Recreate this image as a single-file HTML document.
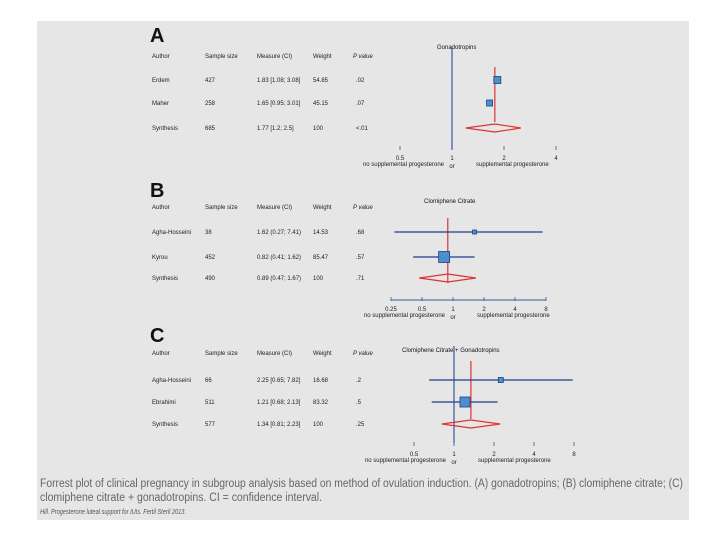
<!DOCTYPE html>
<html><head><meta charset="utf-8"><style>
body{margin:0;background:#fff;width:720px;height:540px;overflow:hidden;font-family:"Liberation Sans",sans-serif}
svg{position:absolute;left:0;top:0}
</style></head><body>
<svg id="s" width="720" height="540">
<rect x="37" y="21" width="652" height="499" fill="#e6e6e6"/>
<text x="40" y="487" font-size="11.5" fill="#666" textLength="643" lengthAdjust="spacingAndGlyphs">Forrest plot of clinical pregnancy in subgroup analysis based on method of ovulation induction. (A) gonadotropins; (B) clomiphene citrate; (C)</text>
<text x="40" y="501" font-size="11.5" fill="#666" textLength="282" lengthAdjust="spacingAndGlyphs">clomiphene citrate + gonadotropins. CI = confidence interval.</text>
<text x="40" y="514" font-size="7" font-style="italic" fill="#555" textLength="146" lengthAdjust="spacingAndGlyphs">Hill. Progesterone luteal support for IUIs. Fertil Steril 2013.</text>
</svg>
<script>
const NS='http://www.w3.org/2000/svg';
const svg=document.getElementById('s');
function mk(tag,attrs,parent){const e=document.createElementNS(NS,tag);for(const k in attrs)e.setAttribute(k,attrs[k]);(parent||svg).appendChild(e);return e;}
// ---- data ----
const panelLabels=['A','B','C'];
const panelTitles=['Gonadotropins','Clomiphene Citrate','Clomiphene Citrate + Gonadotropins'];
const authorsA=['Erdem','Maher','Synthesis'];
const sizesA=['427','258','685'];
const measuresA=['1.83 [1.08; 3.08]','1.65 [0.95; 3.01]','1.77 [1.2; 2.5]'];
const weightsA=['54.85','45.15','100'];
const pA=['.02','.07','<.01'];
const estA=[1.83,1.65,1.77]; const loA=[1.08,0.95,1.2]; const hiA=[3.08,3.01,2.5];
const ticksA=[0.5,1,2,4];
const authorsB=['Agha-Hosseini','Kyrou','Synthesis'];
const sizesB=['38','452','490'];
const measuresB=['1.62 (0.27; 7.41)','0.82 (0.41; 1.62)','0.89 (0.47; 1.67)'];
const weightsB=['14.53','85.47','100'];
const pB=['.68','.57','.71'];
const estB=[1.62,0.82,0.89]; const loB=[0.27,0.41,0.47]; const hiB=[7.41,1.62,1.67];
const ticksB=[0.25,0.5,1,2,4,8];
const authorsC=['Agha-Hosseini','Ebrahimi','Synthesis'];
const sizesC=['66','511','577'];
const measuresC=['2.25 [0.65; 7.82]','1.21 [0.68; 2.13]','1.34 [0.81; 2.23]'];
const weightsC=['16.68','83.32','100'];
const pC=['.2','.5','.25'];
const estC=[2.25,1.21,1.34]; const loC=[0.65,0.68,0.81]; const hiC=[7.82,2.13,2.23];
const ticksC=[0.5,1,2,4,8];
// ---- layout ----
const panels=[
 {lab:panelLabels[0],title:panelTitles[0],au:authorsA,sz:sizesA,ms:measuresA,wt:weightsA,p:pA,est:estA,lo:loA,hi:hiA,ticks:ticksA,
  top:21,hdr:58,rows:[80,103,128],x1:452,dbl:52,tickY:160,axisLine:false,blue:[46,150],red:[67,122],sq:[7,6],ci:false,titleX:437,titleY:49,
  colX:[152,205,257,313,353]},
 {lab:panelLabels[1],title:panelTitles[1],au:authorsB,sz:sizesB,ms:measuresB,wt:weightsB,p:pB,est:estB,lo:loB,hi:hiB,ticks:ticksB,
  top:175,hdr:209,rows:[232,257,278],x1:453,dbl:31,tickY:311,axisLine:300,blue:null,red:[218,283],sq:[4,11],ci:true,titleX:424,titleY:203,
  colX:[152,205,257,313,353]},
 {lab:panelLabels[2],title:panelTitles[2],au:authorsC,sz:sizesC,ms:measuresC,wt:weightsC,p:pC,est:estC,lo:loC,hi:hiC,ticks:ticksC,
  top:320,hdr:355,rows:[380,402,424],x1:454,dbl:40,tickY:456,axisLine:false,blue:[346,443],red:[361,419],sq:[5,10],ci:true,titleX:402,titleY:352,
  colX:[152,205,257,313,353]}
];
const hdrs=[['Author','Sample size','Measure (CI)','Weight','P value'],['Author','Sample size','Measure (CI)','Weight','P value'],['Author','Sample size','Measure (CI)','Weight','P value']];
panels.forEach((P,pi)=>{
  const g=mk('g',{});
  
  
  const X=v=>P.x1+Math.log2(v)*P.dbl;
  const t=mk('text',{x:150,y:P.top+(pi==0?21:22),'font-size':20,'font-weight':'bold',fill:'#111'},g);t.textContent=P.lab;
  
  
  hdrs[pi].forEach((h,i)=>{const e=mk('text',{x:P.colX[i],y:P.hdr,'font-size':6,fill:'#222','font-style':i==4?'italic':'normal'},g);e.textContent=h;
    
    });
  P.au.forEach((a,r)=>{
    [a,P.sz[r],P.ms[r],P.wt[r],P.p[r]].forEach((v,i)=>{const e=mk('text',{x:P.colX[i]+(i==4?3:0),y:P.rows[r]+2,'font-size':6,fill:'#222'},g);e.textContent=v;
      
      });
  });
  const tt=mk('text',{x:P.titleX,y:P.titleY,'font-size':6,fill:'#111'},g);tt.textContent=P.title;
  
  
  if(P.blue){const l=mk('line',{x1:X(1),x2:X(1),y1:P.blue[0],y2:P.blue[1],stroke:'#3a5a9a','stroke-width':1.2},g);
    
    }
  if(P.axisLine){const l=mk('line',{x1:X(P.ticks[0]),x2:X(P.ticks[P.ticks.length-1]),y1:P.axisLine,y2:P.axisLine,stroke:'#3a5a9a','stroke-width':1},g);
    
    }
  const rl=mk('line',{x1:X(P.est[2]),x2:X(P.est[2]),y1:P.red[0],y2:P.red[1],stroke:'#d33','stroke-width':1.2},g);
  
  
  for(let r=0;r<2;r++){
    const y=P.rows[r];
    if(P.ci){const c=mk('line',{x1:X(P.lo[r]),x2:X(P.hi[r]),y1:y,y2:y,stroke:'#1f3f8a','stroke-width':1.2},g);
      
      }
    const s=P.sq[r];
    const q=mk('rect',{x:X(P.est[r])-s/2,y:y-s/2,width:s,height:s,fill:'#4a8fd0',stroke:'#1f3f7a','stroke-width':0.8},g);
    
    
  }
  const dy=P.rows[2];
  const d=mk('polygon',{points:`${X(P.lo[2])},${dy} ${X(P.est[2])},${dy-4} ${X(P.hi[2])},${dy} ${X(P.est[2])},${dy+4}`,fill:'none',stroke:'#d33','stroke-width':1.2},g);
  
  
  P.ticks.forEach(v=>{
    const tk=mk('line',{x1:X(v),x2:X(v),y1:P.tickY-14,y2:P.tickY-10,stroke:'#3a5a9a','stroke-width':0.8},g);
    
    
    const e=mk('text',{x:X(v),y:P.tickY,'font-size':6,'text-anchor':'middle',fill:'#222'},g);e.textContent=String(v);
    
    
  });
  const l1=mk('text',{x:X(1)-8,y:P.tickY+6,'font-size':6,'text-anchor':'end',fill:'#222'},g);l1.textContent='no supplemental progesterone';
  
  
  const l2=mk('text',{x:X(1),y:P.tickY+8,'font-size':6,'text-anchor':'middle',fill:'#222'},g);l2.textContent='or';
  
  
  const l3=mk('text',{x:X(1)+24,y:P.tickY+6,'font-size':6,fill:'#222'},g);l3.textContent='supplemental progesterone';
  
  
});
</script>
</body></html>
